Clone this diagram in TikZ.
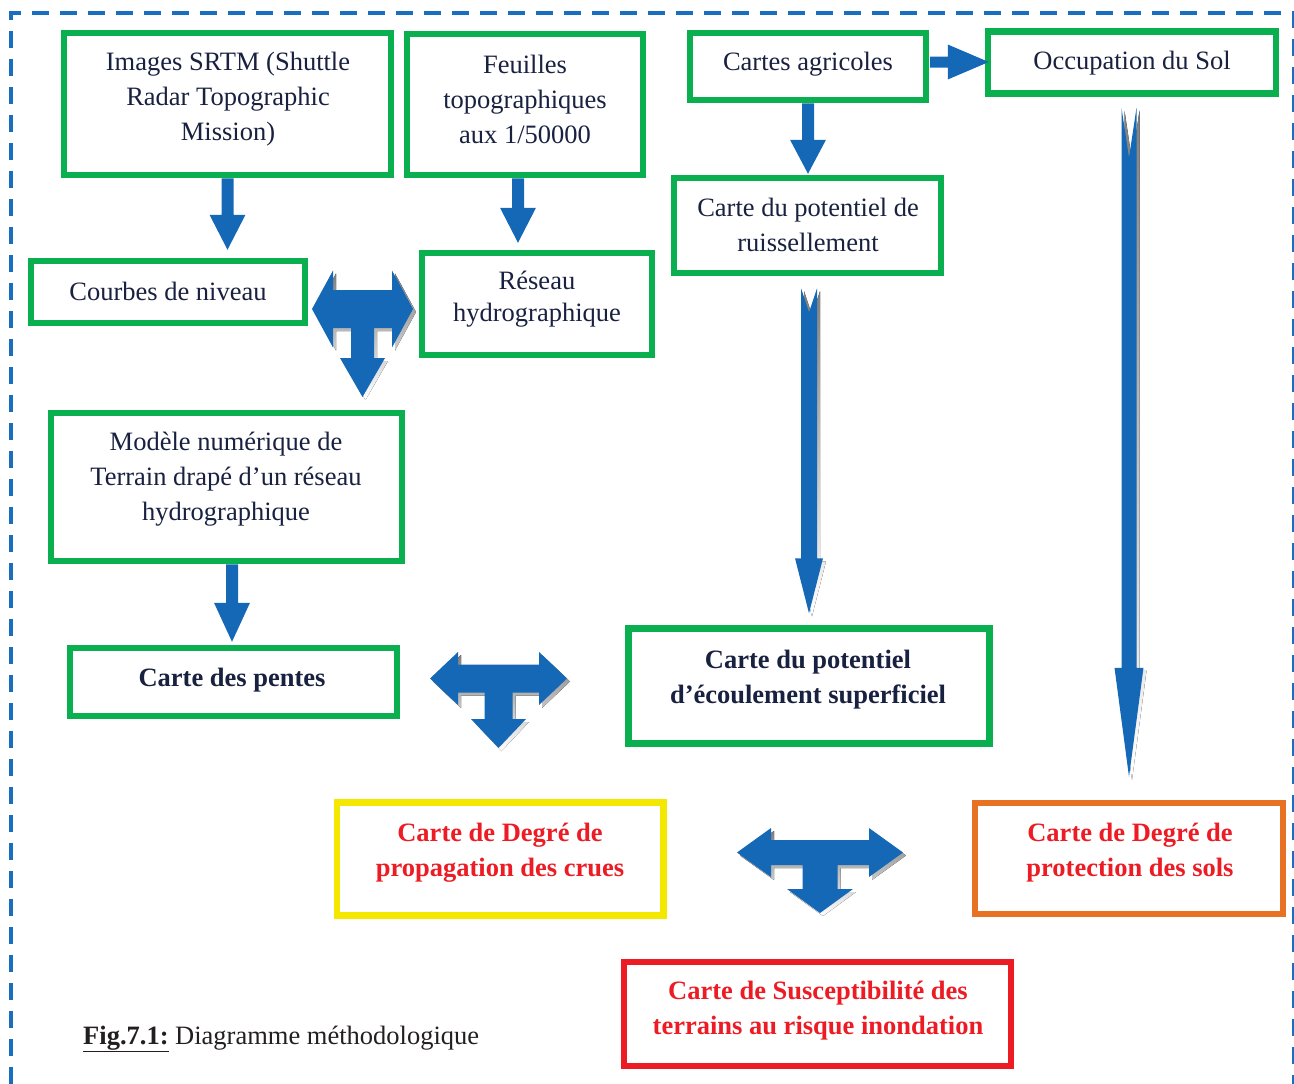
\documentclass[tikz,border=0pt]{standalone}
\usepackage{fontspec}
\setmainfont{Liberation Serif}
\usetikzlibrary{calc}
\definecolor{navy}{RGB}{25,33,64}
\definecolor{bgreen}{RGB}{10,176,80}
\definecolor{byellow}{RGB}{245,232,0}
\definecolor{borange}{RGB}{232,114,36}
\definecolor{bred}{RGB}{237,28,36}
\definecolor{ablue}{RGB}{20,104,182}
\definecolor{dblue}{RGB}{25,110,192}
\definecolor{shade}{RGB}{168,168,168}
\definecolor{captxt}{RGB}{35,31,32}

% vertical block arrow: start, tip, shaft half width, head half width, head length, notch, fill
\newcommand\varrow[7]{\fill[#7] let \p1=(#1), \p2=(#2) in
  (\x1-#3pt,\y1) -- (\x1,\y1-#6pt) -- (\x1+#3pt,\y1) -- (\x1+#3pt,\y2+#5pt)
  -- (\x1+#4pt,\y2+#5pt) -- (\x1,\y2) -- (\x1-#4pt,\y2+#5pt) -- (\x1-#3pt,\y2+#5pt) -- cycle;}

\tikzset{
  box/.style={line width=6.5pt, fill=white, inner sep=0pt},
  gbox/.style={box, draw=bgreen},
  txt/.style={font=\fontsize{26.5}{35}\selectfont, text=navy, align=center, inner sep=0pt, yshift=-2pt},
  btxt/.style={txt, font=\fontsize{26.5}{35}\selectfont\bfseries},
  rtxt/.style={btxt, text=bred},
  pics/tarr/.style n args={8}{code={
    \fill[shade, shift={(3,-3)}] (-#1,0) -- (-#1+#2,#3) -- (-#1+#2,#4) -- (#1-#2,#4) -- (#1-#2,#3) -- (#1,0)
      -- (#1-#2,-#3) -- (#1-#2,-#4) -- (#5,-#4) -- (#5,-#4-#6) -- (#7,-#4-#6) -- (0,-#4-#6-#8)
      -- (-#7,-#4-#6) -- (-#5,-#4-#6) -- (-#5,-#4) -- (-#1+#2,-#4) -- (-#1+#2,-#3) -- cycle;
    \fill[ablue] (-#1,0) -- (-#1+#2,#3) -- (-#1+#2,#4) -- (#1-#2,#4) -- (#1-#2,#3) -- (#1,0)
      -- (#1-#2,-#3) -- (#1-#2,-#4) -- (#5,-#4) -- (#5,-#4-#6) -- (#7,-#4-#6) -- (0,-#4-#6-#8)
      -- (-#7,-#4-#6) -- (-#5,-#4-#6) -- (-#5,-#4) -- (-#1+#2,-#4) -- (-#1+#2,-#3) -- cycle;
  }}
}

\begin{document}
\begin{tikzpicture}[x=1pt,y=1pt]
\useasboundingbox (0,0) rectangle (1294,-1084);

% dashed frame
\draw[dblue, line width=4pt, dash pattern=on 17pt off 11pt] (11,-1084) -- (11,-12.5) -- (1293.5,-12.5) -- (1293.5,-1084);

% boxes
\node[gbox, minimum width=327pt, minimum height=142pt] (srtm) at (227.5,-104) {};
\node[gbox, minimum width=236pt, minimum height=141pt] (feuil) at (525,-104.5) {};
\node[gbox, minimum width=236pt, minimum height=67pt] (agri) at (808,-66.5) {};
\node[gbox, minimum width=288pt, minimum height=62pt] (occ) at (1132,-62.5) {};
\node[gbox, minimum width=267pt, minimum height=95pt] (ruis) at (807.5,-225.5) {};
\node[gbox, minimum width=274pt, minimum height=62pt] (courbes) at (168,-292) {};
\node[gbox, minimum width=230pt, minimum height=102pt] (reseau) at (537,-304) {};
\node[gbox, minimum width=351pt, minimum height=148pt] (modele) at (226.5,-487) {};
\node[gbox, minimum width=327pt, minimum height=68pt] (pentes) at (233.5,-682) {};
\node[gbox, minimum width=361pt, minimum height=115pt] (ecoul) at (809,-686) {};
\node[box, draw=byellow, minimum width=326.5pt, minimum height=113pt] (propag) at (500.25,-859) {};
\node[box, draw=borange, minimum width=308pt, minimum height=111pt] (protec) at (1129,-858.5) {};
\node[box, draw=bred, minimum width=387pt, minimum height=104pt] (suscep) at (817.5,-1014) {};

% texts
\node[txt] (srtm-t) at (228,-97) {Images SRTM (Shuttle\\Radar Topographic\\Mission)};
\node[txt] (feuil-t) at (525,-97.5) {Feuilles\\topographiques\\aux 1/50000};
\node[txt] (agri-t) at (808,-62) {Cartes agricoles};
\node[txt] (occ-t) at (1132,-61) {Occupation du Sol};
\node[txt] (ruis-t) at (808,-223) {Carte du potentiel de\\ruissellement};
\node[txt] (courbes-t) at (168,-289) {Courbes de niveau};
\node[txt, font=\fontsize{26.5}{32}\selectfont] (reseau-t) at (537,-297) {Réseau\\hydrographique};
\node[txt] (modele-t) at (226,-477) {Modèle numérique de\\Terrain drapé d’un réseau\\hydrographique};
\node[btxt] (pentes-t) at (232,-678) {Carte des pentes};
\node[btxt] (ecoul-t) at (808,-677.5) {Carte du potentiel\\d’écoulement superficiel};
\node[rtxt] (propag-t) at (500,-850.5) {Carte de Degré de\\propagation des crues};
\node[rtxt] (protec-t) at (1130,-850.5) {Carte de Degré de\\protection des sols};
\node[rtxt] (suscep-t) at (818,-1008.5) {Carte de Susceptibilité des\\terrains au risque inondation};

% caption
\node[anchor=west, inner sep=0pt, text=captxt, font=\fontsize{26.5}{35}\selectfont] (caption) at (83,-1039)
  {\textbf{\underline{Fig.7.1:}} Diagramme méthodologique};

% connector coordinates
\coordinate (a1s) at (srtm.south);
\coordinate (a1e) at ($(a1s |- courbes.north)+(0,8)$);
\coordinate (a2s) at ($(feuil.south)+(-7,0)$);
\coordinate (a2e) at ($(a2s |- reseau.north)+(0,7)$);
\coordinate (a3s) at (agri.south);
\coordinate (a3e) at ($(a3s |- ruis.north)+(0,1)$);
\coordinate (a4s) at ($(agri.east)+(0.75,4.5)$);
\coordinate (a4e) at ($(occ.west)+(4,0.5)$);
\coordinate (a5s) at ($(ruis.south)+(1.5,-12)$);
\coordinate (a5e) at ($(a5s |- ecoul.north)+(0,12)$);
\coordinate (a6s) at ($(occ.south)+(-3,-11)$);
\coordinate (a6e) at ($(a6s |- protec.north)+(0,23)$);
\coordinate (a7s) at ($(modele.south)+(5.5,0)$);
\coordinate (a7e) at ($(a7s |- pentes.north)+(0,3)$);

% short arrows
\varrow{a1s}{a1e}{6}{18}{35}{0}{ablue}
\varrow{a2s}{a2e}{6}{18}{35}{0}{ablue}
\varrow{a3s}{a3e}{6}{18}{34}{0}{ablue}
\varrow{a7s}{a7e}{6}{18}{39}{0}{ablue}
\fill[ablue] let \p1=(a4s), \p2=(a4e) in
  (\x1,\y1+5.5pt) -- (\x2-41pt,\y1+5.5pt) -- (\x2-41pt,\y1+17.5pt) -- (\x2,\y1)
  -- (\x2-41pt,\y1-17.5pt) -- (\x2-41pt,\y1-5.5pt) -- (\x1,\y1-5.5pt) -- cycle;

% long arrows with shadow
\begin{scope}[transform canvas={shift={(3pt,-3pt)}}]
\varrow{a5s}{a5e}{8}{14}{55}{24}{shade}
\varrow{a6s}{a6e}{7.5}{14.5}{109}{50}{shade}
\end{scope}
\varrow{a5s}{a5e}{8}{14}{55}{24}{ablue}
\varrow{a6s}{a6e}{7.5}{14.5}{109}{50}{ablue}

% three-way arrows
\pic (t1) at (362.5,-309) {tarr={50.5}{21}{38.5}{19}{11.5}{30}{22.5}{39}};
\pic (t2) at (498.5,-678.5) {tarr={68.5}{28}{26.5}{14}{14}{26.5}{27.5}{29}};
\pic (t3) at (820,-852.5) {tarr={83}{34}{24.5}{12.5}{17.5}{24}{33}{24}};
\end{tikzpicture}
\end{document}
